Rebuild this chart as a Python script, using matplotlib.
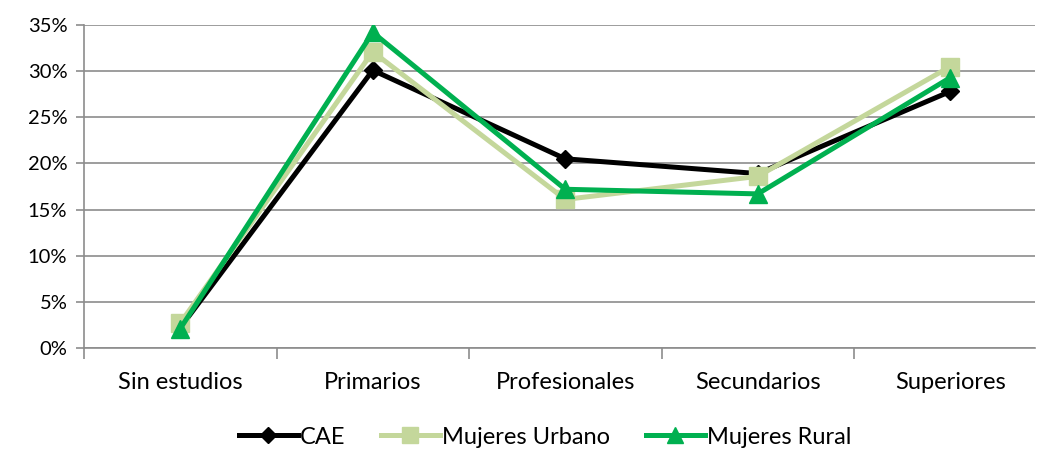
import matplotlib
matplotlib.use("Agg")
import matplotlib.pyplot as plt
from matplotlib.ticker import PercentFormatter, FixedLocator

plt.rcParams['font.family'] = ['Lato', 'DejaVu Sans']

categories = ["Sin estudios", "Primarios", "Profesionales", "Secundarios", "Superiores"]
cae = [2.2, 30.1, 20.5, 18.9, 27.8]
urbano = [2.7, 32.1, 16.1, 18.6, 30.5]
rural = [2.1, 34.2, 17.2, 16.7, 29.3]

fig = plt.figure(figsize=(10.37, 4.5), dpi=100)
ax = fig.add_axes([84/1037, 102/450, (1035-84)/1037, (348-25)/450])

x = list(range(len(categories)))
ax.plot(x, cae, color="black", lw=3.6, marker="D", ms=9, label="CAE", zorder=3)
ax.plot(x, urbano, color="#c4d79b", lw=3.6, marker="s", ms=13, label="Mujeres Urbano", zorder=4)
ax.plot(x, rural, color="#00b050", lw=3.6, marker="^", ms=13, label="Mujeres Rural", zorder=5)

ax.set_xlim(-0.5, 4.44)
ax.set_ylim(0, 35)
ax.set_yticks(range(0, 36, 5))
ax.yaxis.set_major_formatter(PercentFormatter(decimals=0))
ax.grid(axis="y", color="#8c8c8c", lw=1.2)
ax.set_axisbelow(True)

ax.set_xticks(x)
ax.set_xticklabels(categories)
ax.tick_params(axis="x", which="major", length=0, pad=17, labelsize=17)
ax.xaxis.set_minor_locator(FixedLocator([-0.5, 0.5, 1.5, 2.5, 3.5]))
ax.tick_params(axis="x", which="minor", length=8, width=1.2, color="#8c8c8c", direction="out")
ax.tick_params(axis="y", length=6, width=1.2, color="#8c8c8c", labelsize=14.5, pad=6)

for s in ["top", "right"]:
    ax.spines[s].set_visible(False)
for s in ["left", "bottom"]:
    ax.spines[s].set_color("#8c8c8c")
    ax.spines[s].set_linewidth(1.2)

fig.legend(loc="center", bbox_to_anchor=(0.5256, 1 - 437/450), ncol=3, frameon=False,
           fontsize=17, handlelength=2.5, handletextpad=0.1, columnspacing=1.5,
           markerscale=0.9)

fig.savefig("out.png", dpi=100)
